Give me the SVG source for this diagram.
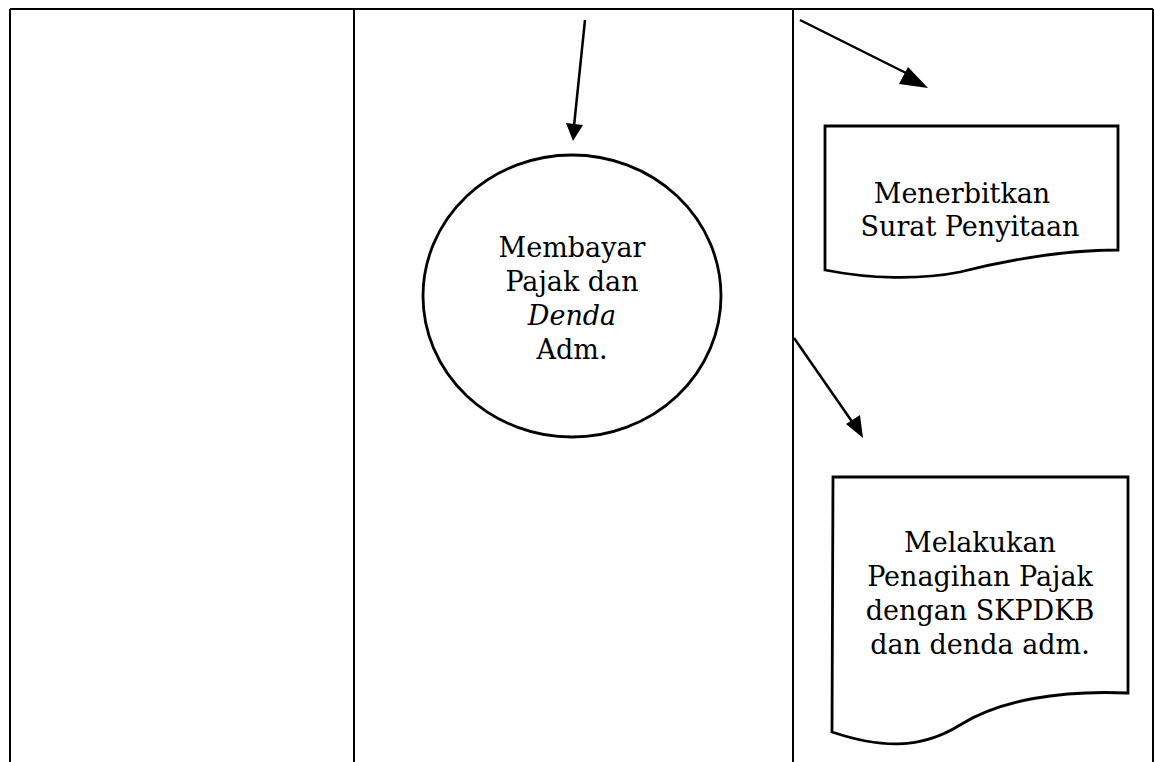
<svg xmlns="http://www.w3.org/2000/svg" width="1155" height="762" viewBox="0 0 1155 762">
<defs>
<style>
.ln{stroke:#000;stroke-width:2;fill:none}
.sh{stroke:#000;stroke-width:2.8;fill:#fff}
.ar{stroke:#000;stroke-width:2.5;fill:none}
.hd{fill:#000}
.tx{font-family:"DejaVu Serif","Liberation Serif",serif;font-size:27px;fill:#000;text-anchor:middle}
</style>
</defs>
<rect width="1155" height="762" fill="#fff"/>
<g id="lanes">
<path class="ln" d="M10,9 H1153 M10,9 V762 M354,9 V762 M793,9 V762 M1153,9 V762"/>
</g>
<g id="connectors">
<path class="ar" d="M585,20 L574,126"/>
<path class="hd" d="M566,123 L583,125 L573,141 Z"/>
<path class="ar" d="M800,20 L914,77"/>
<path class="hd" d="M908,67 L928,88 L899,84 Z"/>
<path class="ar" d="M794,338 L853,423"/>
<path class="hd" d="M846,424 L863,438 L860,415 Z"/>
</g>
<g id="node-membayar">
<ellipse class="sh" cx="572" cy="296" rx="149" ry="141"/>
<text class="tx" x="572" y="257">Membayar</text>
<text class="tx" x="572" y="291">Pajak dan</text>
<text class="tx" x="572" y="325"><tspan font-style="italic">Denda</tspan></text>
<text class="tx" x="572" y="359">Adm.</text>
</g>
<g id="node-menerbitkan">
<path class="sh" d="M825,126 H1118 V250 C1060,250 1000,262 960,272 C920,280 870,279 825,270 Z"/>
<text class="tx" x="962" y="203">Menerbitkan</text>
<text class="tx" x="970" y="236">Surat Penyitaan</text>
</g>
<g id="node-melakukan">
<path class="sh" d="M833,477 H1128 V693 C1060,690 1000,700 960,725 C920,750 880,748 832,732 Z"/>
<text class="tx" x="980" y="552">Melakukan</text>
<text class="tx" x="980" y="586">Penagihan Pajak</text>
<text class="tx" x="980" y="620">dengan SKPDKB</text>
<text class="tx" x="980" y="654">dan denda adm.</text>
</g>
</svg>
